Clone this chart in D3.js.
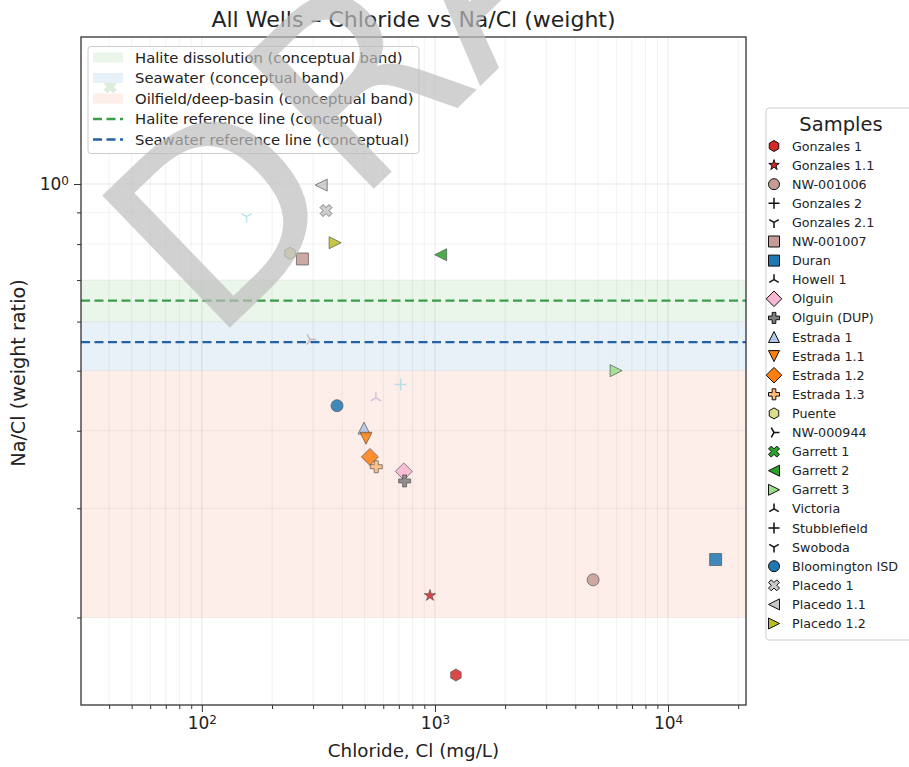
<!DOCTYPE html>
<html><head><meta charset="utf-8">
<script src="https://cdn.jsdelivr.net/npm/d3@7"></script>
<style>
body{margin:0;background:#fff;}
svg{display:block;font-family:"DejaVu Sans",sans-serif;}
</style>
</head><body>
<svg id="chart" width="909" height="767"></svg>
<script>
// ---------------- data ----------------
const samples = ["Gonzales 1","Gonzales 1.1","NW-001006","Gonzales 2","Gonzales 2.1","NW-001007","Duran","Howell 1","Olguin","Olguin (DUP)","Estrada 1","Estrada 1.1","Estrada 1.2","Estrada 1.3","Puente","NW-000944","Garrett 1","Garrett 2","Garrett 3","Victoria","Stubblefield","Swoboda","Bloomington ISD","Placedo 1","Placedo 1.1","Placedo 1.2"];
const chloride = [1230, 952, 4770, null, null, 270, 16000, null, 735, 741, 496, 506, 526, 560, 239, 291, 40.5, 1058, 5985, 558, 713, 155.5, 380, 341, 325, 373];
const naClRatio = [0.1615, 0.217, 0.230, null, null, 0.757, 0.248, null, 0.344, 0.332, 0.404, 0.389, 0.363, 0.350, 0.773, 0.5615, 1.435, 0.769, 0.500, 0.452, 0.475, 0.886, 0.439, 0.906, 0.996, 0.804];
const markerShapes = ["h","*","o","+","1","s","s","2","D","P","^","v","D","P","h","4","X","<",">","2","+","1","o","X","<",">"];
const markerColors = ["#d62728","#d62728","#c49c94","#ff9896","#ff9896","#c49c94","#1f77b4","#c5b0d5","#f7b6d2","#7f7f7f","#aec7e8","#ff7f0e","#ff7f0e","#ffbb78","#dbdb8d","#c49c94","#2ca02c","#2ca02c","#98df8a","#c5b0d5","#9edae5","#9edae5","#1f77b4","#c7c7c7","#c7c7c7","#bcbd22"];

const bandNames = ["Halite dissolution (conceptual band)","Seawater (conceptual band)","Oilfield/deep-basin (conceptual band)"];
const bandLow = [0.6, 0.5, 0.2];
const bandHigh = [0.7, 0.6, 0.5];
const bandColors = ["#ebf6ea","#e8f1f8","#fdeeea"];

const refNames = ["Halite reference line (conceptual)","Seawater reference line (conceptual)"];
const refValues = [0.6485, 0.5559];
const refColors = ["#3a9d4c","#2462a8"];

const xMajorTicks = [100, 1000, 10000];
const yMajorTicks = [1];
const xDomain = [30.3, 21600];
const yDomain = [0.1445, 1.726];

const titleText = "All Wells \u2013 Chloride vs Na/Cl (weight)";
const xLabel = "Chloride, Cl (mg/L)";
const yLabel = "Na/Cl (weight ratio)";
const legendTitle = "Samples";
const watermark = "DRAFT";

// ---------------- layout ----------------
const svg = d3.select("#chart");
const L = 81, R = 746, T = 37, B = 705;
const x = d3.scaleLog().domain(xDomain).range([L, R]);
const y = d3.scaleLog().domain(yDomain).range([B, T]);

svg.append("defs").append("clipPath").attr("id","clip")
  .append("rect").attr("x",L).attr("y",T).attr("width",R-L).attr("height",B-T);

function minorTicks(dom){
  const out=[]; const lo=Math.floor(Math.log10(dom[0])), hi=Math.ceil(Math.log10(dom[1]));
  for(let e=lo;e<=hi;e++){ for(let m=1;m<=9;m++){ const v=m*Math.pow(10,e); if(v>=dom[0]&&v<=dom[1]) out.push(v);} }
  return out;
}
const isMajor = (list,v)=>list.some(m=>Math.abs(m-v)/v<1e-9);
const xAll = minorTicks(xDomain);
const yAll = minorTicks(yDomain);
const xMinor = xAll.filter(v=>!isMajor(xMajorTicks,v));
const yMinor = yAll.filter(v=>!isMajor(yMajorTicks,v));

// bands
const plot = svg.append("g").attr("clip-path","url(#clip)");
plot.selectAll("rect.band").data(bandNames).join("rect").attr("class","band")
  .attr("x",L).attr("width",R-L)
  .attr("y",(d,i)=>y(bandHigh[i])).attr("height",(d,i)=>y(bandLow[i])-y(bandHigh[i]))
  .attr("fill",(d,i)=>bandColors[i]);

// grid
const grid = plot.append("g").attr("stroke","#000").attr("stroke-width",0.8);
grid.selectAll("line.gx").data(xAll).join("line").attr("class","gx").attr("x1",d=>x(d)).attr("x2",d=>x(d)).attr("y1",T).attr("y2",B)
  .attr("stroke-opacity",d=>isMajor(xMajorTicks,d)?0.12:0.07);
grid.selectAll("line.gy").data(yAll).join("line").attr("class","gy").attr("y1",d=>y(d)).attr("y2",d=>y(d)).attr("x1",L).attr("x2",R)
  .attr("stroke-opacity",d=>isMajor(yMajorTicks,d)?0.12:0.07);

// reference lines
plot.selectAll("line.ref").data(refNames).join("line").attr("class","ref")
  .attr("x1",L).attr("x2",R).attr("y1",(d,i)=>y(refValues[i])).attr("y2",(d,i)=>y(refValues[i]))
  .attr("stroke",(d,i)=>refColors[i]).attr("stroke-width",2.4).attr("stroke-dasharray","9,4.5");

// marker paths
function markerPath(t, ms){
  const h = ms/2;
  const pts = a=>"M"+a.map(p=>p[0].toFixed(2)+","+p[1].toFixed(2)).join("L")+"Z";
  switch(t){
    case "o": return `M${h},0A${h},${h} 0 1,1 ${-h},0A${h},${h} 0 1,1 ${h},0Z`;
    case "s": return pts([[-h,-h],[h,-h],[h,h],[-h,h]]);
    case "D": { const d=h*1.414; return pts([[0,-d],[d,0],[0,d],[-d,0]]); }
    case "^": return pts([[0,-h],[h,h],[-h,h]]);
    case "v": return pts([[0,h],[h,-h],[-h,-h]]);
    case "<": return pts([[-h,0],[h,-h],[h,h]]);
    case ">": return pts([[h,0],[-h,-h],[-h,h]]);
    case "h": { const a=[]; for(let k=0;k<6;k++){const an=-Math.PI/2+k*Math.PI/3; a.push([h*Math.cos(an),h*Math.sin(an)]);} return pts(a); }
    case "*": { const a=[]; for(let k=0;k<10;k++){const an=-Math.PI/2+k*Math.PI/5; const r=k%2? h*0.382:h; a.push([r*Math.cos(an),r*Math.sin(an)]);} return pts(a); }
    case "P": { const u=ms/6; return pts([[-u,-3*u],[u,-3*u],[u,-u],[3*u,-u],[3*u,u],[u,u],[u,3*u],[-u,3*u],[-u,u],[-3*u,u],[-3*u,-u],[-u,-u]]); }
    case "X": { const u=ms/4; return pts([[-u,-2*u],[0,-u],[u,-2*u],[2*u,-u],[u,0],[2*u,u],[u,2*u],[0,u],[-u,2*u],[-2*u,u],[-u,0],[-2*u,-u]]); }
    case "+": return `M${-h},0H${h}M0,${-h}V${h}`;
    case "1": return `M0,0V${h}M0,0L${-0.866*h},${-0.5*h}M0,0L${0.866*h},${-0.5*h}`;
    case "2": return `M0,0V${-h}M0,0L${-0.866*h},${0.5*h}M0,0L${0.866*h},${0.5*h}`;
    case "4": return `M0,0H${h}M0,0L${-0.5*h},${-0.866*h}M0,0L${-0.5*h},${0.866*h}`;
  }
}
const unfilled = t => ["+","1","2","3","4"].includes(t);

// points
const idx = d3.range(samples.length).filter(i=>chloride[i]!=null && naClRatio[i]!=null);
plot.selectAll("path.pt").data(idx).join("path").attr("class","pt")
  .attr("transform",i=>`translate(${x(chloride[i])},${y(naClRatio[i])})`)
  .attr("d",i=>markerPath(markerShapes[i], 12))
  .attr("fill",i=>unfilled(markerShapes[i])?"none":markerColors[i])
  .attr("stroke",i=>unfilled(markerShapes[i])?markerColors[i]:"#3a3a3a")
  .attr("stroke-width",i=>unfilled(markerShapes[i])?1.4:0.7)
  .attr("opacity",i=>unfilled(markerShapes[i])?0.75:0.85);

// spines
svg.append("rect").attr("x",L).attr("y",T).attr("width",R-L).attr("height",B-T)
  .attr("fill","none").attr("stroke","#333").attr("stroke-width",1.3);

// axes
function styleAxis(g){
  g.selectAll(".domain").remove();
  g.selectAll("line").attr("stroke","#333").attr("stroke-width",1);
}
const xAxisG = svg.append("g").attr("transform",`translate(0,${B})`);
const xMinG = xAxisG.append("g").call(d3.axisBottom(x).tickValues(xMinor).tickSize(4).tickFormat(""));
xMinG.selectAll("text").remove();
const xMajG = xAxisG.append("g").call(d3.axisBottom(x).tickValues(xMajorTicks).tickSize(7).tickPadding(5).tickFormat(()=>"10"));
styleAxis(xAxisG);
xMajG.selectAll("text").attr("font-size",17).attr("fill","#222").attr("font-family","DejaVu Sans")
  .each(function(d){ const e=Math.round(Math.log10(d)); d3.select(this).append("tspan").attr("dy","-0.45em").attr("font-size",12).text(e); });

const yAxisG = svg.append("g").attr("transform",`translate(${L},0)`);
const yMinG = yAxisG.append("g").call(d3.axisLeft(y).tickValues(yMinor).tickSize(4).tickFormat(""));
yMinG.selectAll("text").remove();
const yMajG = yAxisG.append("g").call(d3.axisLeft(y).tickValues(yMajorTicks).tickSize(7).tickPadding(5).tickFormat(()=>"10"));
styleAxis(yAxisG);
yMajG.selectAll("text").attr("font-size",17).attr("fill","#222").attr("font-family","DejaVu Sans")
  .each(function(d){ const e=Math.round(Math.log10(d)); d3.select(this).append("tspan").attr("dy","-0.45em").attr("font-size",12).text(e); });

// labels
svg.append("text").attr("x",(L+R)/2).attr("y",27).attr("text-anchor","middle").attr("font-size",22).attr("fill","#222").text(titleText);
svg.append("text").attr("x",(L+R)/2).attr("y",757).attr("text-anchor","middle").attr("font-size",18.3).attr("fill","#222").text(xLabel);
svg.append("text").attr("transform",`translate(25,${(T+B)/2+2}) rotate(-90)`).attr("text-anchor","middle").attr("font-size",19.2).attr("fill","#222").text(yLabel);

// upper-left legend
const lg = svg.append("g");
lg.append("rect").attr("x",88).attr("y",46.5).attr("width",331).attr("height",107).attr("rx",3)
  .attr("fill","#fff").attr("fill-opacity",0.8).attr("stroke","#ccc").attr("stroke-width",1);
const lgItems = bandNames.concat(refNames);
lgItems.forEach((name,i)=>{
  const cy = 57.5 + i*20.5;
  if(i<3){
    lg.append("rect").attr("x",93).attr("y",cy-5).attr("width",30).attr("height",10).attr("fill",bandColors[i]);
  } else {
    lg.append("line").attr("x1",93).attr("x2",123).attr("y1",cy).attr("y2",cy)
      .attr("stroke",refColors[i-3]).attr("stroke-width",2.4).attr("stroke-dasharray","9,4.5");
  }
  lg.append("text").attr("x",135).attr("y",cy+5).attr("font-size",14.8).attr("fill","#222").text(name);
});

// right legend
const rg = svg.append("g");
rg.append("rect").attr("x",766).attr("y",108).attr("width",152).attr("height",532).attr("rx",3)
  .attr("fill","#fff").attr("stroke","#ccc").attr("stroke-width",1);
rg.append("text").attr("x",841).attr("y",131).attr("text-anchor","middle").attr("font-size",19.5).attr("fill","#222").text(legendTitle);
samples.forEach((name,i)=>{
  const cy = 146 + i*19.1;
  const t = markerShapes[i];
  rg.append("path").attr("transform",`translate(774,${cy})`).attr("d",markerPath(t,11))
    .attr("fill",unfilled(t)?"none":markerColors[i]).attr("stroke","#111").attr("stroke-width",unfilled(t)?1.5:1);
  rg.append("text").attr("x",792).attr("y",cy+4.5).attr("font-size",12.7).attr("fill","#222").text(name);
});

// watermark
svg.append("text").attr("transform","translate(212,345) rotate(-44)")
  .attr("font-size",252).attr("letter-spacing",6).attr("fill","#bdbdbd").attr("fill-opacity",0.7).text(watermark);
</script>
</body></html>
